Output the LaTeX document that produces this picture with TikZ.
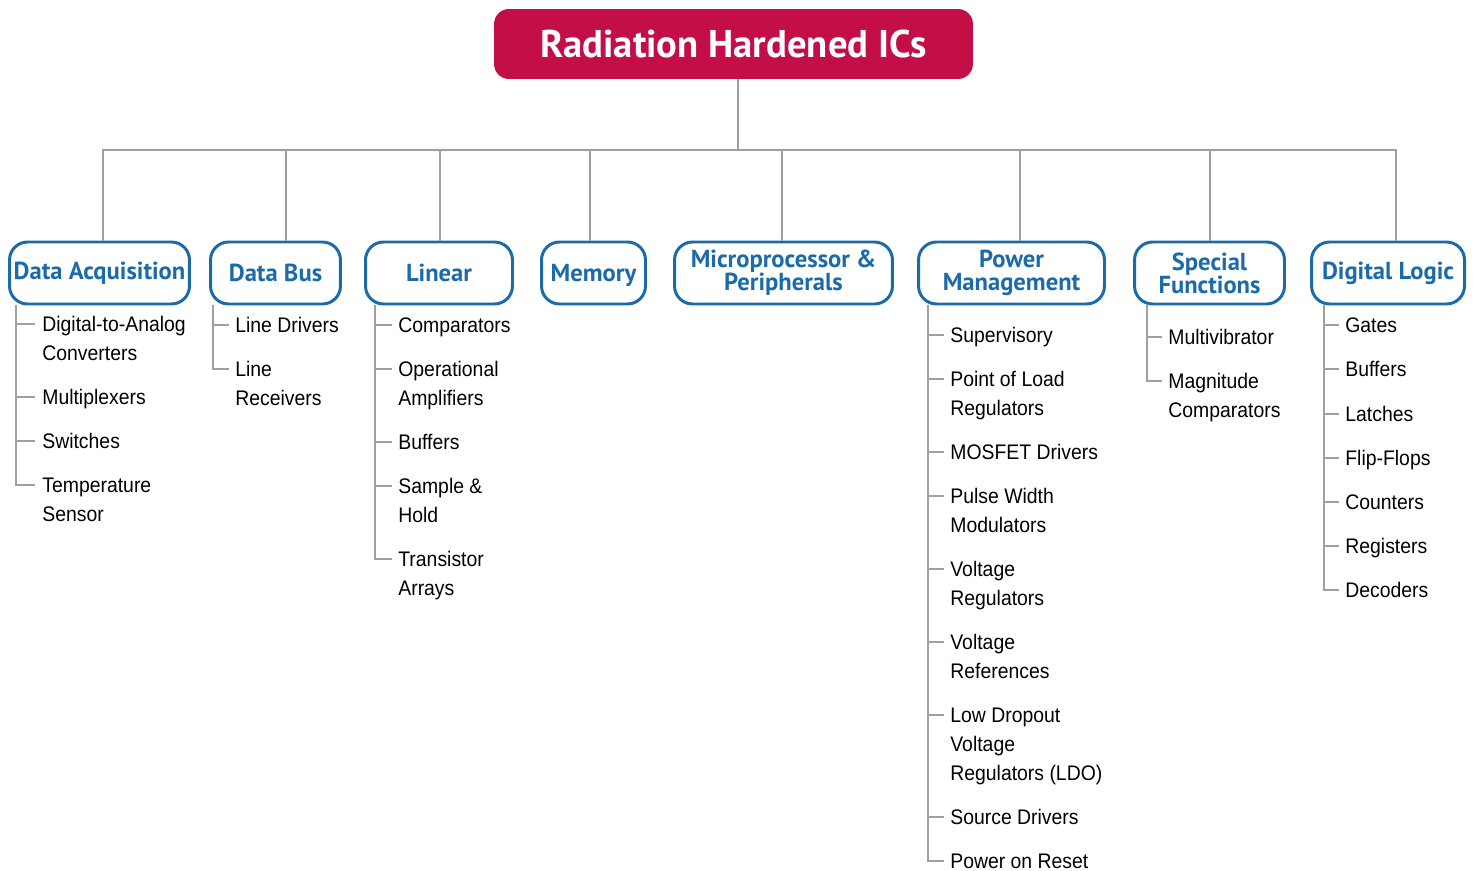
\documentclass[tikz,border=0pt]{standalone}
\usepackage{fontspec}
\usepackage{xcolor}
\usepackage{tikz}

\newfontfamily\itemfont[FakeStretch=0.92]{Liberation Sans}
\newfontfamily\headfont{PT Sans}
\definecolor{rhred}{RGB}{196,14,71}
\definecolor{rhblue}{RGB}{28,107,168}
\definecolor{rhgray}{RGB}{160,160,160}
\newcommand{\lst}[1]{\begin{tabular}[t]{@{}l@{}}#1\end{tabular}}

\tikzset{
  cat/.style={draw=rhblue, line width=1.7pt, rounded corners=0.36cm, minimum height=1.24cm,
    text=rhblue, align=center, font=\headfont\bfseries\fontsize{14}{13}\selectfont, inner sep=0pt},
  item/.style={anchor=base west, inner sep=0pt, font=\itemfont\fontsize{12}{16.5}\selectfont},
  conn/.style={draw=rhgray, line width=1.1pt}
}

\begin{document}
\begin{tikzpicture}[x=0.02cm, y=-0.02cm]
\useasboundingbox (0,0) rectangle (1473,871);

% top box
\node[fill=rhred, rounded corners=0.3cm, minimum width=9.58cm, minimum height=1.4cm, text=white,
  font=\headfont\bfseries\fontsize{22}{22}\selectfont] (top) at (733.5,44) {Radiation Hardened ICs};

% categories
\node[cat, minimum width=3.6cm] (da) at (99.5,273) {Data Acquisition};
\node[cat, minimum width=2.6cm] (db) at (275.5,273) {Data Bus};
\node[cat, minimum width=2.94cm] (lin) at (439,273) {Linear};
\node[cat, minimum width=2.08cm, text depth=0pt] (mem) at (593.5,273) {Memory};
\node[cat, minimum width=4.36cm] (mp) at (783.5,273) {Microprocessor \&\\Peripherals};
\node[cat, minimum width=3.72cm] (pm) at (1011.5,273) {Power\\Management};
\node[cat, minimum width=3.0cm] (sf) at (1209.5,273) {Special\\Functions};
\node[cat, minimum width=3.06cm] (dl) at (1388,273) {Digital Logic};

% bus
\coordinate (hub) at (738,150);
\draw[conn] (top.south -| hub) -- (hub);
\draw[conn] ([xshift=0.07cm]da.north) |- (hub) -| ([xshift=0.16cm]dl.north);
\foreach \c/\dx in {db/0.21,lin/0.02,mem/-0.07,mp/-0.03,pm/0.17,sf/0.01}
  \draw[conn] ([xshift=\dx cm]\c.north) -- ([xshift=\dx cm]\c.north |- hub);

% spines
\coordinate (daS) at (16,305);
\coordinate (dbS) at (213,305);
\coordinate (linS) at (375,305);
\coordinate (pmS) at (928,305);
\coordinate (sfS) at (1147,305);
\coordinate (dlS) at (1324,305);

% lists
\foreach \n/\y/\t in {1/324/{Digital-to-Analog\\Converters}, 2/397/Multiplexers, 3/441/Switches,
    4/485/{Temperature\\Sensor}} {
  \node[item] (da\n) at (42,\y+7.5) {\lst{\t}};
  \draw[conn] (daS) |- ([yshift=4.3pt,xshift=-0.14cm]da\n.base west);
}
\foreach \n/\y/\t in {1/325/Line Drivers, 2/369/{Line\\Receivers}} {
  \node[item] (db\n) at (235,\y+7.5) {\lst{\t}};
  \draw[conn] (dbS) |- ([yshift=4.3pt,xshift=-0.12cm]db\n.base west);
}
\foreach \n/\y/\t in {1/325/Comparators, 2/369/{Operational\\Amplifiers}, 3/442/Buffers,
    4/486/{Sample \&\\Hold}, 5/559/{Transistor\\Arrays}} {
  \node[item] (lin\n) at (398,\y+7.5) {\lst{\t}};
  \draw[conn] (linS) |- ([yshift=4.3pt,xshift=-0.12cm]lin\n.base west);
}
\foreach \n/\y/\t in {1/335/Supervisory, 2/379/{Point of Load\\Regulators}, 3/452/MOSFET Drivers,
    4/496/{Pulse Width\\Modulators}, 5/569/{Voltage\\Regulators}, 6/642/{Voltage\\References},
    7/715/{Low Dropout\\Voltage\\Regulators (LDO)}, 8/817/Source Drivers, 9/861/Power on Reset} {
  \node[item] (pm\n) at (950,\y+7.5) {\lst{\t}};
  \draw[conn] (pmS) |- ([yshift=4.3pt,xshift=-0.12cm]pm\n.base west);
}
\foreach \n/\y/\t in {1/337/Multivibrator, 2/381/{Magnitude\\Comparators}} {
  \node[item] (sf\n) at (1168,\y+7.5) {\lst{\t}};
  \draw[conn] (sfS) |- ([yshift=4.3pt,xshift=-0.12cm]sf\n.base west);
}
\foreach \n/\y/\t in {1/325/Gates, 2/369/Buffers, 3/414/Latches, 4/458/Flip-Flops,
    5/502/Counters, 6/546/Registers, 7/590/Decoders} {
  \node[item] (dl\n) at (1345,\y+7.5) {\lst{\t}};
  \draw[conn] (dlS) |- ([yshift=4.3pt,xshift=-0.12cm]dl\n.base west);
}
\end{tikzpicture}
\end{document}
